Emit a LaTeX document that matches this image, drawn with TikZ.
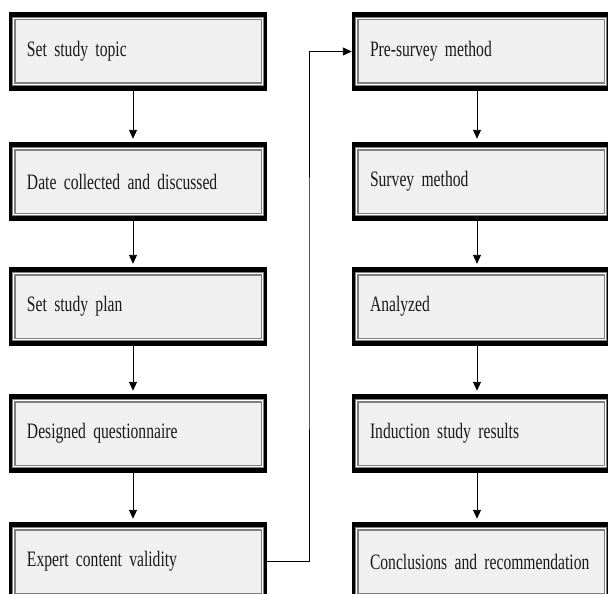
\documentclass[tikz,border=0pt]{standalone}
\usepackage{fontspec}
\setmainfont{Liberation Serif}
\newfontfamily\boxfont[FakeStretch=0.71,WordSpace=0.7]{Liberation Serif}
\usetikzlibrary{arrows.meta}
\definecolor{boxfill}{HTML}{F0F0F0}
\definecolor{innerline}{HTML}{808080}
\definecolor{txt}{HTML}{1A1A1A}
\tikzset{
  stepbox/.style={rectangle, minimum width=258pt, minimum height=79pt, inner sep=0pt,
    text width=222pt, align=left, fill=black, text=txt,
    font=\boxfont\fontsize{22pt}{25pt}\selectfont,
    path picture={
      \fill[innerline] ([xshift=3pt,yshift=-5pt]path picture bounding box.north west) rectangle ([xshift=-3pt,yshift=5pt]path picture bounding box.south east);
      \fill[white] ([xshift=4pt,yshift=-6pt]path picture bounding box.north west) rectangle ([xshift=-4pt,yshift=6pt]path picture bounding box.south east);
      \fill[innerline] ([xshift=5pt,yshift=-7pt]path picture bounding box.north west) rectangle ([xshift=-5pt,yshift=7pt]path picture bounding box.south east);
      \fill[boxfill] ([xshift=6.5pt,yshift=-8.5pt]path picture bounding box.north west) rectangle ([xshift=-6.5pt,yshift=8.5pt]path picture bounding box.south east);
    }},
  flow/.style={draw=black, line width=0.9pt, -{Triangle[length=9pt,width=8pt]}}
}
\begin{document}
\begin{tikzpicture}[x=1pt,y=-1pt]
\useasboundingbox (0,0) rectangle (608,594);
\clip (0,0) rectangle (608,594);
\node[stepbox] (l1) at (138,51.5) {\rlap{Set study topic}};
\node[stepbox] (l2) at (138,181.5) {\rlap{Date collected and discussed}};
\node[stepbox] (l3) at (138,306.5) {\rlap{Set study plan}};
\node[stepbox] (l4) at (138,433.5) {\rlap{Designed questionnaire}};
\node[stepbox] (l5) at (138,561.5) {\rlap{Expert content validity}};
\node[stepbox] (r1) at (481,51.5) {\rlap{Pre-survey method}};
\node[stepbox] (r2) at (481,181.5) {\rlap{Survey method}};
\node[stepbox] (r3) at (481,306.5) {\rlap{Analyzed}};
\node[stepbox] (r4) at (481,433.5) {\rlap{Induction study results}};
\node[stepbox] (r5) at (481,561.5) {\rlap{Conclusions and recommendation}};
\foreach \a/\b in {l1/l2,l2/l3,l3/l4,l4/l5}{
  \draw[flow, shorten >=3pt] ([xshift=-5pt]\a.south) -- ([xshift=-5pt]\b.north);
}
\foreach \a/\b in {r1/r2,r2/r3,r3/r4,r4/r5}{
  \draw[flow, shorten >=3pt] ([xshift=-4pt]\a.south) -- ([xshift=-4pt]\b.north);
}
\coordinate (k) at (309,300);
\draw[flow] (l5.east) -| (k) |- (r1.west);
\end{tikzpicture}
\end{document}
